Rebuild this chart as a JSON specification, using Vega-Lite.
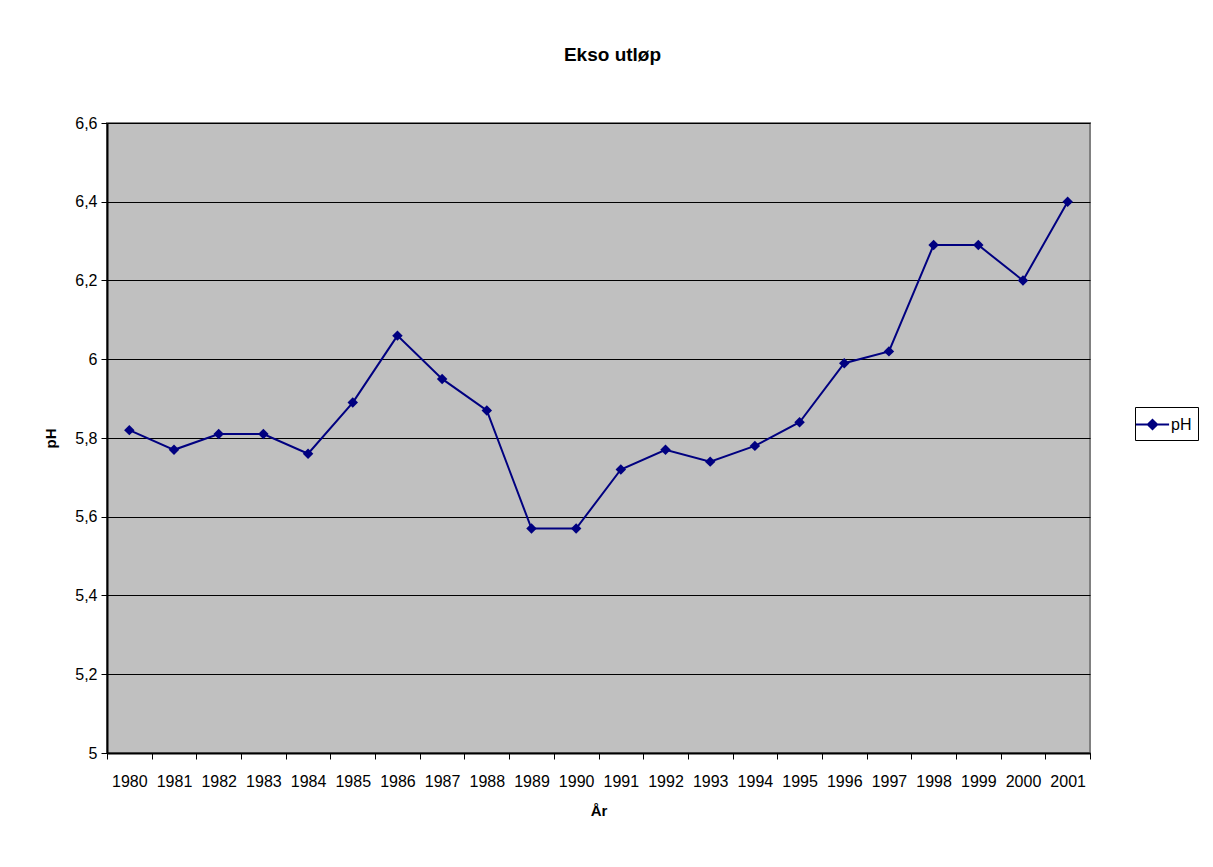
{
  "$schema": "https://vega.github.io/schema/vega-lite/v6.json",
  "width": 983,
  "height": 630,
  "autosize": {"type": "none"},
  "padding": {"left": 107, "top": 123, "right": 123, "bottom": 114},
  "background": "white",
  "title": {"text": "Ekso utløp", "font": "Liberation Sans", "fontSize": 19, "fontWeight": "bold", "color": "black", "offset": 50, "dx": 14, "anchor": "middle"},
  "data": {"values": [
    {"year": "1980", "pH": 5.82},
    {"year": "1981", "pH": 5.77},
    {"year": "1982", "pH": 5.81},
    {"year": "1983", "pH": 5.81},
    {"year": "1984", "pH": 5.76},
    {"year": "1985", "pH": 5.89},
    {"year": "1986", "pH": 6.06},
    {"year": "1987", "pH": 5.95},
    {"year": "1988", "pH": 5.87},
    {"year": "1989", "pH": 5.57},
    {"year": "1990", "pH": 5.57},
    {"year": "1991", "pH": 5.72},
    {"year": "1992", "pH": 5.77},
    {"year": "1993", "pH": 5.74},
    {"year": "1994", "pH": 5.78},
    {"year": "1995", "pH": 5.84},
    {"year": "1996", "pH": 5.99},
    {"year": "1997", "pH": 6.02},
    {"year": "1998", "pH": 6.29},
    {"year": "1999", "pH": 6.29},
    {"year": "2000", "pH": 6.20},
    {"year": "2001", "pH": 6.40}
  ]},
  "encoding": {
    "x": {"field": "year", "type": "ordinal", "scale": {"type": "band", "paddingInner": 0, "paddingOuter": 0},
      "axis": {"title": "År", "labelAngle": 0, "tickBand": "extent", "grid": false, "labelPadding": 14, "titlePadding": 14}},
    "y": {"field": "pH", "type": "quantitative", "scale": {"domain": [5, 6.6], "nice": false, "zero": false},
      "axis": {"title": "pH", "values": [5, 5.2, 5.4, 5.6, 5.8, 6, 6.2, 6.4, 6.6], "labelExpr": "replace(format(datum.value, '~g'), '.', ',')", "grid": true, "gridColor": "black", "gridWidth": 1, "gridOpacity": 1, "labelPadding": 4, "titlePadding": 16}},
    "color": {"datum": "pH", "type": "nominal", "scale": {"range": ["#000080"]},
      "legend": {"title": null, "orient": "none", "legendX": 1028, "legendY": 284, "symbolType": "M-1.6,0L1.6,0M0,-0.45L0.45,0L0,0.45L-0.45,0Z", "symbolSize": 430, "symbolStrokeWidth": 2, "symbolFillColor": "#000080", "symbolStrokeColor": "#000080", "symbolOpacity": 1, "strokeColor": "black", "padding": 6, "labelFont": "Liberation Sans", "labelFontSize": 16, "labelColor": "black", "labelOffset": 7, "fillColor": "white"}}
  },
  "layer": [
    {"mark": {"type": "line", "strokeWidth": 2}},
    {"mark": {"type": "point", "shape": "diamond", "filled": true, "size": 110, "opacity": 1}}
  ],
  "config": {
    "view": {"fill": "#C0C0C0", "stroke": "#808080", "strokeWidth": 2},
    "axis": {"labelFont": "Liberation Sans", "labelFontSize": 16, "labelColor": "black", "titleFont": "Liberation Sans", "titleFontSize": 15, "titleFontWeight": "bold", "titleColor": "black", "domainColor": "black", "domainWidth": 2, "tickColor": "black", "tickWidth": 1, "tickSize": 6}
  }
}
